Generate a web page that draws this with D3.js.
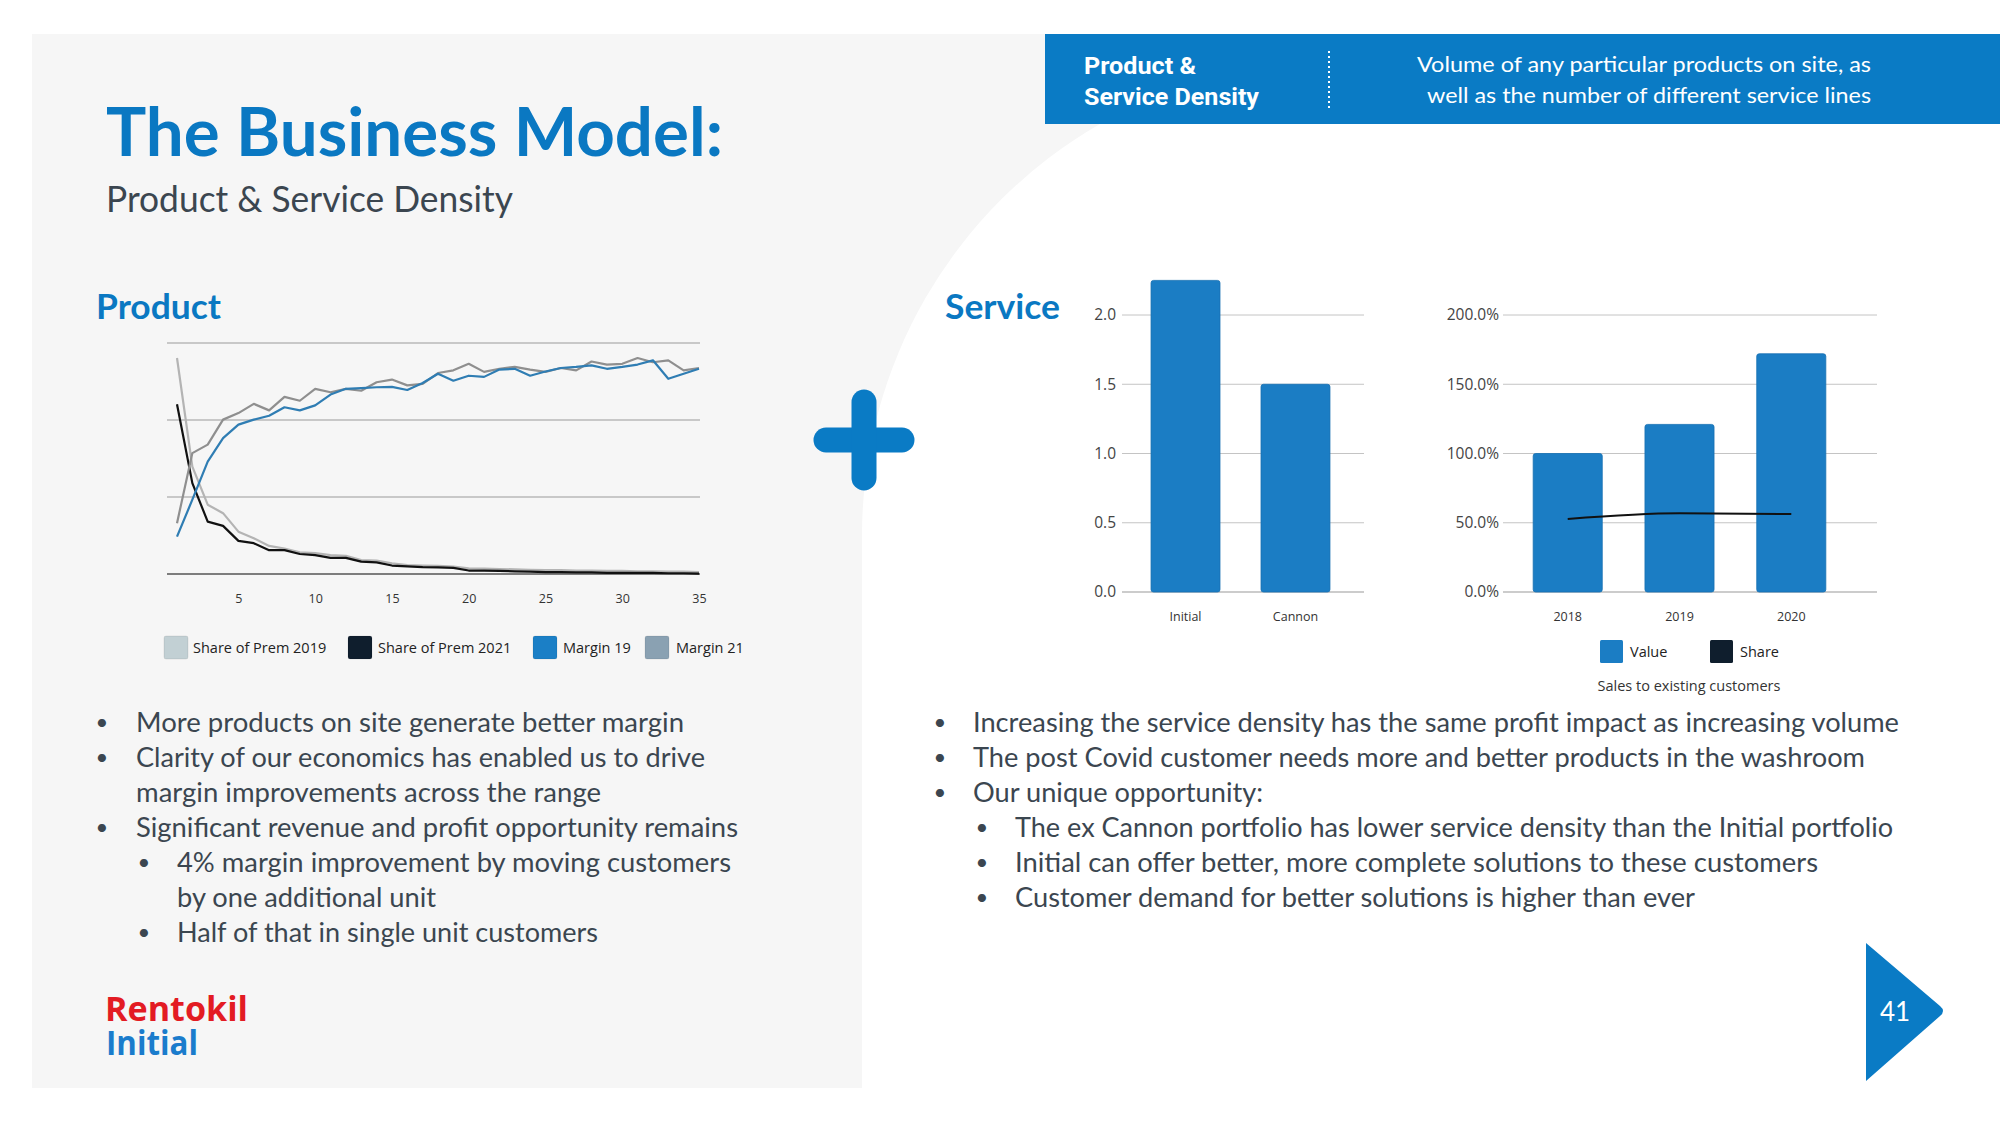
<!DOCTYPE html>
<html><head><meta charset="utf-8">
<script src="https://cdn.jsdelivr.net/npm/d3@7"></script>
<style>body{margin:0;background:#fff;} svg{display:block;}</style>
</head><body>
<svg id="s" width="2000" height="1125"></svg>
<script>
// ---------- DATA ----------
const productUnits = [1,2,3,4,5,6,7,8,9,10,11,12,13,14,15,16,17,18,19,20,21,22,23,24,25,26,27,28,29,30,31,32,33,34,35];
const productTicks = [5,10,15,20,25,30,35];
const productGrid = [0,20,40,60];
const share2019 = [56.1,27.9,18.0,15.8,11.0,9.3,7.3,6.6,5.6,5.4,4.9,4.7,3.6,3.5,2.8,2.3,2.2,2.1,1.9,1.5,1.4,1.3,1.2,1.1,1.0,1.0,0.9,0.9,0.8,0.8,0.7,0.7,0.6,0.6,0.5];
const share2021 = [44.1,23.6,13.6,12.5,8.6,8.0,6.2,6.2,5.2,4.9,4.2,4.2,3.2,3.0,2.2,2.0,1.8,1.7,1.6,0.9,0.9,0.8,0.7,0.6,0.5,0.5,0.4,0.4,0.3,0.3,0.3,0.3,0.2,0.2,0.1];
const margin19 = [9.7,19.3,29.2,35.3,38.8,40.1,41.1,43.3,42.5,43.8,46.6,48.1,48.3,48.5,48.6,47.8,49.6,52.0,50.2,51.5,51.2,53.1,53.3,51.5,52.6,53.5,53.8,54.2,53.3,53.8,54.4,55.5,50.7,52.0,53.3];
const margin21 = [13.2,31.4,33.6,40.1,41.8,44.2,42.5,46.0,45.0,48.1,47.2,48.1,47.6,49.8,50.5,49.0,49.4,52.2,52.9,54.6,52.5,53.3,53.8,53.1,52.5,53.5,52.9,55.2,54.4,54.6,56.1,55.0,55.5,52.9,53.5];
const productLegend = ["Share of Prem 2019","Share of Prem 2021","Margin 19","Margin 21"];

const serviceCats = ["Initial","Cannon"];
const serviceVals = [2.25,1.5];
const serviceTicks = [0,0.5,1.0,1.5,2.0];

const salesYears = ["2018","2019","2020"];
const salesValue = [100,121,172];
const salesShare = [52.7,56.8,56.3];
const salesTicks = [0,50,100,150,200];
const salesLegend = ["Value","Share"];

const leftBullets = [
  {lvl:1, b:true, t:"More products on site generate better margin", w:548},
  {lvl:1, b:true, t:"Clarity of our economics has enabled us to drive", w:569},
  {lvl:1, b:false, t:"margin improvements across the range", w:465},
  {lvl:1, b:true, t:"Significant revenue and profit opportunity remains", w:602},
  {lvl:2, b:true, t:"4% margin improvement by moving customers", w:554},
  {lvl:2, b:false, t:"by one additional unit", w:259},
  {lvl:2, b:true, t:"Half of that in single unit customers", w:421}
];
const rightBullets = [
  {lvl:1, t:"Increasing the service density has the same profit impact as increasing volume", w:926},
  {lvl:1, t:"The post Covid customer needs more and better products in the washroom", w:892},
  {lvl:1, t:"Our unique opportunity:", w:290},
  {lvl:2, t:"The ex Cannon portfolio has lower service density than the Initial portfolio", w:878},
  {lvl:2, t:"Initial can offer better, more complete solutions to these customers", w:803},
  {lvl:2, t:"Customer demand for better solutions is higher than ever", w:680}
];

// ---------- DRAW ----------
const svg = d3.select('#s');
const BLUE = '#0a7bc5';
const TXT = '#3b4650';
const SLIDE_FONT = 'Lato, "Open Sans", sans-serif';
const CHART_FONT = '"Open Sans", "Noto Sans", sans-serif';

function txt(x, y, s, o) {
  o = o || {};
  const t = svg.append('text').attr('x', x).attr('y', y).text(s)
    .attr('font-family', o.family || SLIDE_FONT)
    .attr('font-size', o.size || 16)
    .attr('font-weight', o.weight || 400)
    .attr('fill', o.fill || TXT)
    .attr('text-anchor', o.anchor || 'start');
  if (o.len) t.attr('textLength', o.len).attr('lengthAdjust', 'spacingAndGlyphs');
  return t;
}

// background panel with curve
svg.append('path')
  .attr('d', 'M32,34 H1045 V124 H1100 A474,474 0 0,0 862,534 V1088 H32 Z')
  .attr('fill', '#f6f6f6');

// banner
svg.append('rect').attr('x', 1045).attr('y', 34).attr('width', 955).attr('height', 90).attr('fill', BLUE);
txt(1084, 74, 'Product &', {family:'Roboto, sans-serif', size:23, weight:700, fill:'#fff', len:112});
txt(1084, 105, 'Service Density', {family:'Roboto, sans-serif', size:23, weight:700, fill:'#fff', len:175});
svg.append('line').attr('x1', 1329).attr('x2', 1329).attr('y1', 51).attr('y2', 110)
  .attr('stroke', '#fff').attr('stroke-width', 2).attr('stroke-dasharray', '2,3');
txt(1871, 72, 'Volume of any particular products on site, as', {size:22, fill:'#fff', anchor:'end', len:454});
txt(1871, 103, 'well as the number of different service lines', {size:22, fill:'#fff', anchor:'end', len:444});

// titles
txt(106, 156, 'The Business Model:', {size:66, weight:700, fill:'#0a78c2', len:617});
txt(106, 212, 'Product & Service Density', {size:36, fill:TXT, len:407});
txt(96, 319, 'Product', {size:35, weight:700, fill:'#0a78c2', len:125});
txt(945, 319, 'Service', {size:35, weight:700, fill:'#0a78c2', len:115});

// plus sign
const plus = svg.append('g').attr('stroke', BLUE).attr('stroke-width', 25).attr('stroke-linecap', 'round');
plus.append('line').attr('x1', 826).attr('x2', 902).attr('y1', 440).attr('y2', 440);
plus.append('line').attr('x1', 864).attr('x2', 864).attr('y1', 402).attr('y2', 478);

// ---------- Product line chart ----------
const xP = d3.scaleLinear().domain([1,35]).range([177,699]);
const yP = d3.scaleLinear().domain([0,60]).range([574,343]);
const gP = svg.append('g');
gP.selectAll('line.grid').data(productGrid).join('line')
  .attr('x1', 167).attr('x2', 700)
  .attr('y1', d => yP(d)).attr('y2', d => yP(d))
  .attr('stroke', d => d === 0 ? '#555' : '#9a9a9a').attr('stroke-width', d => d === 0 ? 1.5 : 1);
const axP = gP.append('g').attr('transform', 'translate(0,574)')
  .call(d3.axisBottom(xP).tickValues(productTicks).tickSize(0).tickPadding(20));
axP.select('.domain').remove();
axP.selectAll('text').attr('font-family', CHART_FONT).attr('font-size', 12.5).attr('fill', '#333');

const lineP = d3.line().x((d,i) => xP(productUnits[i])).y(d => yP(d));
const seriesP = [
  {v: share2019, c:'#b4b4b4'},
  {v: share2021, c:'#111111'},
  {v: margin21, c:'#8f8f8f'},
  {v: margin19, c:'#2f7db3'}
];
gP.selectAll('path.s').data(seriesP).join('path')
  .attr('d', d => lineP(d.v)).attr('fill', 'none')
  .attr('stroke', d => d.c).attr('stroke-width', 2.2).attr('stroke-linejoin', 'round');

// legend
const legP = [
  {sx:164, tx:193, c:'#c2d0d4'},
  {sx:348, tx:378, c:'#0f1e2d'},
  {sx:533, tx:563, c:'#1b7fc6'},
  {sx:645, tx:676, c:'#8aa1b2'}
];
legP.forEach((d,i) => {
  svg.append('rect').attr('x', d.sx).attr('y', 636).attr('width', 24).attr('height', 23).attr('rx', 2)
    .attr('fill', d.c).attr('stroke', 'rgba(0,0,0,0.08)');
  txt(d.tx, 653, productLegend[i], {family:CHART_FONT, size:14.5, fill:'#222'});
});

// ---------- Service density bar chart ----------
const xS = d3.scaleBand().domain(serviceCats).range([1122,1359]).paddingInner(0.373).paddingOuter(0.264);
const yS = d3.scaleLinear().domain([0,2]).range([592,315]);
const gS = svg.append('g');
gS.selectAll('line.grid').data(serviceTicks).join('line')
  .attr('x1', 1122).attr('x2', 1364)
  .attr('y1', d => yS(d)).attr('y2', d => yS(d))
  .attr('stroke', d => d === 0 ? '#999' : '#c4c4c4').attr('stroke-width', 1);
const aSy = gS.append('g').attr('transform', 'translate(1122,0)')
  .call(d3.axisLeft(yS).tickValues(serviceTicks).tickFormat(d3.format('.1f')).tickSize(0).tickPadding(6));
aSy.select('.domain').remove();
aSy.selectAll('text').attr('font-family', CHART_FONT).attr('font-size', 15.5).attr('fill', '#444');
gS.selectAll('rect.bar').data(serviceVals).join('rect')
  .attr('x', (d,i) => xS(serviceCats[i])).attr('width', xS.bandwidth())
  .attr('y', d => yS(d)).attr('height', d => yS(0) - yS(d))
  .attr('rx', 2.5).attr('fill', '#1b7dc4').attr('stroke', '#1670b2').attr('stroke-width', 0.8);
const aSx = gS.append('g').attr('transform', 'translate(0,592)')
  .call(d3.axisBottom(xS).tickSize(0).tickPadding(20));
aSx.select('.domain').remove();
aSx.selectAll('text').attr('font-family', CHART_FONT).attr('font-size', 12.5).attr('fill', '#333');

// ---------- Sales to existing customers ----------
const xV = d3.scaleBand().domain(salesYears).range([1503,1856]).paddingInner(0.382).paddingOuter(0.27);
const yV = d3.scaleLinear().domain([0,200]).range([592,315]);
const gV = svg.append('g');
gV.selectAll('line.grid').data(salesTicks).join('line')
  .attr('x1', 1503).attr('x2', 1877)
  .attr('y1', d => yV(d)).attr('y2', d => yV(d))
  .attr('stroke', d => d === 0 ? '#999' : '#c4c4c4').attr('stroke-width', 1);
const aVy = gV.append('g').attr('transform', 'translate(1503,0)')
  .call(d3.axisLeft(yV).tickValues(salesTicks).tickFormat(d => d3.format('.1f')(d) + '%').tickSize(0).tickPadding(4));
aVy.select('.domain').remove();
aVy.selectAll('text').attr('font-family', CHART_FONT).attr('font-size', 15.5).attr('fill', '#444');
gV.selectAll('rect.bar').data(salesValue).join('rect')
  .attr('x', (d,i) => xV(salesYears[i])).attr('width', xV.bandwidth())
  .attr('y', d => yV(d)).attr('height', d => yV(0) - yV(d))
  .attr('rx', 2.5).attr('fill', '#1b7dc4').attr('stroke', '#1670b2').attr('stroke-width', 0.8);
const lineV = d3.line().curve(d3.curveMonotoneX)
  .x((d,i) => xV(salesYears[i]) + xV.bandwidth()/2).y(d => yV(d));
gV.append('path').attr('d', lineV(salesShare)).attr('fill', 'none')
  .attr('stroke', '#111').attr('stroke-width', 2);
const aVx = gV.append('g').attr('transform', 'translate(0,592)')
  .call(d3.axisBottom(xV).tickSize(0).tickPadding(20));
aVx.select('.domain').remove();
aVx.selectAll('text').attr('font-family', CHART_FONT).attr('font-size', 12.5).attr('fill', '#333');

const legV = [{sx:1600, tx:1630, c:'#1b7dc4'}, {sx:1710, tx:1740, c:'#0f1e2d'}];
legV.forEach((d,i) => {
  svg.append('rect').attr('x', d.sx).attr('y', 640).attr('width', 23).attr('height', 23).attr('rx', 1.5).attr('fill', d.c);
  txt(d.tx, 657, salesLegend[i], {family:CHART_FONT, size:14.5, fill:'#222'});
});
txt(1689, 691, 'Sales to existing customers', {family:CHART_FONT, size:14.5, fill:'#333', anchor:'middle'});

// ---------- Bullets ----------
const baselines = [732,767,802,837,872,907,942];
leftBullets.forEach((d,i) => {
  const bx = d.lvl === 1 ? 102 : 144;
  const tx = d.lvl === 1 ? 136 : 177;
  if (d.b) txt(bx, baselines[i] - 2, '•', {size:22, fill:TXT, anchor:'middle'});
  txt(tx, baselines[i], d.t, {size:27, fill:TXT, len:d.w});
});
rightBullets.forEach((d,i) => {
  const bx = d.lvl === 1 ? 940 : 982;
  const tx = d.lvl === 1 ? 973 : 1015;
  txt(bx, baselines[i] - 2, '•', {size:22, fill:TXT, anchor:'middle'});
  txt(tx, baselines[i], d.t, {size:27, fill:TXT, len:d.w});
});

// ---------- Logo (one text, two lines) ----------
const logo = svg.append('text').attr('font-family', '"Open Sans", sans-serif').attr('font-size', 34).attr('font-weight', 700);
logo.append('tspan').attr('x', 105).attr('y', 1021).attr('fill', '#e31b23')
  .attr('textLength', 143).attr('lengthAdjust', 'spacingAndGlyphs').text('Rentokil');
logo.append('tspan').attr('x', 106).attr('y', 1055).attr('fill', '#1a7ccc')
  .attr('textLength', 92).attr('lengthAdjust', 'spacingAndGlyphs').text('Initial');

// ---------- Page number ----------
svg.append('path').attr('d', 'M1866,943 L1866,1081 L1940,1016 Q1946,1011 1940,1006 Z').attr('fill', BLUE);
txt(1895, 1021, '41', {size:26, fill:'#fff', anchor:'middle'});
</script>
</body></html>
